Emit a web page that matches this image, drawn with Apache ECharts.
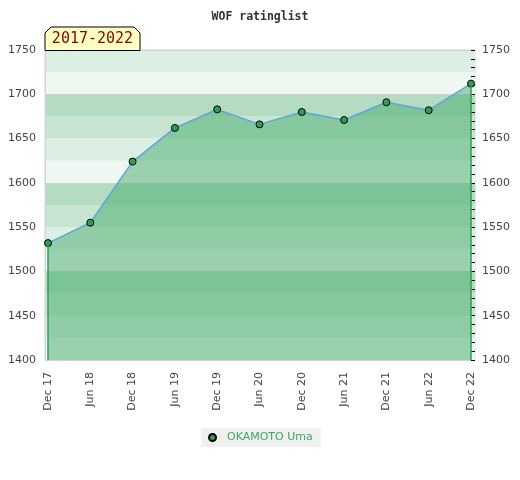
<!DOCTYPE html>
<html>
<head>
<meta charset="utf-8">
<script src="https://cdn.jsdelivr.net/npm/echarts@6/dist/echarts.min.js"></script>
<style>
  html, body { margin: 0; padding: 0; background: #ffffff; }
  #chart { width: 520px; height: 480px; }
</style>
</head>
<body>
<div id="chart"></div>
<script>
const categories = ['Dec 17', 'Jun 18', 'Dec 18', 'Jun 19', 'Dec 19', 'Jun 20', 'Dec 20', 'Jun 21', 'Dec 21', 'Jun 22', 'Dec 22'];
const ratings = [1532, 1555, 1624, 1662, 1683, 1666, 1680, 1671, 1691, 1682, 1712];
const seriesName = 'OKAMOTO Uma';
const chartTitle = 'WOF ratinglist';
const periodLabel = '2017-2022';
const yMin = 1400, yMax = 1750, yStep = 50;

const chart = echarts.init(document.getElementById('chart'), null, { renderer: 'canvas' });
const labelColor = '#444';
const font = 'DejaVu Sans';
const plainNumber = v => String(v);

const option = {
  backgroundColor: '#ffffff',
  animation: false,
  title: {
    text: chartTitle,
    left: 'center',
    top: 6,
    textStyle: { fontFamily: 'DejaVu Sans Mono', fontWeight: 'bold', fontSize: 11.5, color: '#333' }
  },
  legend: {
    data: [seriesName],
    left: 201,
    top: 428,
    padding: [4, 8, 4, 7],
    backgroundColor: '#f0f0f0',
    icon: 'circle',
    itemWidth: 7,
    itemHeight: 7,
    textStyle: { fontFamily: font, fontSize: 11, color: '#3aa860', padding: [0, 0, 0, 6] }
  },
  grid: [
    { left: 45, right: 45, top: 50, bottom: 120, show: true, borderColor: '#d4d4d4', borderWidth: 1, backgroundColor: 'transparent' },
    { left: 48, right: 49, top: 50, bottom: 120, show: false }
  ],
  xAxis: [
    { gridIndex: 0, type: 'value', min: 0, max: 1, show: false },
    {
      gridIndex: 1, type: 'category', data: categories, boundaryGap: false,
      axisLine: { show: false }, axisTick: { show: false },
      axisLabel: { rotate: 90, margin: 12, fontFamily: font, fontSize: 11, color: labelColor, interval: 0 }
    }
  ],
  yAxis: [
    {
      gridIndex: 0, type: 'value', position: 'left', min: yMin, max: yMax, interval: yStep,
      axisLine: { show: true, lineStyle: { color: '#d4d4d4' } }, axisTick: { show: false },
      splitLine: { show: false },
      axisLabel: { margin: 9, fontFamily: font, fontSize: 11, color: labelColor, formatter: plainNumber }
    },
    {
      gridIndex: 0, type: 'value', position: 'right', min: yMin, max: yMax, interval: yStep,
      axisLine: { show: false },
      axisTick: { show: true, inside: true, length: 4, lineStyle: { color: '#000' } },
      minorTick: { show: true, splitNumber: 5, length: 4, lineStyle: { color: '#000' } },
      splitLine: { show: false },
      axisLabel: { margin: 7, fontFamily: font, fontSize: 11, color: labelColor, formatter: plainNumber }
    },
    {
      gridIndex: 0, type: 'value', min: yMin, max: yMax, interval: 25,
      axisLine: { show: false }, axisTick: { show: false }, axisLabel: { show: false },
      splitLine: { show: false },
      splitArea: { show: true, areaStyle: { color: ['#eff7f2', '#dcefe3', '#c7e5d1', '#b3dcc1'] } }
    },
    {
      gridIndex: 0, type: 'value', min: yMin, max: yMax, interval: 100,
      axisLine: { show: false }, axisTick: { show: false }, axisLabel: { show: false },
      splitLine: { show: true, lineStyle: { color: '#d0d0d0', width: 1 } }
    },
    { gridIndex: 1, type: 'value', min: yMin, max: yMax, show: false }
  ],
  series: [
    {
      name: seriesName,
      type: 'line',
      xAxisIndex: 1,
      yAxisIndex: 4,
      data: ratings,
      symbol: 'circle',
      symbolSize: 7,
      lineStyle: { color: '#62a3dc', width: 1.5 },
      itemStyle: { color: '#2e9e55', borderColor: '#000', borderWidth: 1 },
      areaStyle: { color: 'rgba(68,172,106,0.5)', opacity: 1, origin: 'start' },
      markLine: {
        silent: true,
        symbol: 'none',
        label: { show: false },
        lineStyle: { color: '#2ea052', width: 1.5, type: 'solid' },
        data: [
          [{ coord: [categories[0], ratings[0]] }, { coord: [categories[0], yMin] }],
          [{ coord: [categories[categories.length - 1], ratings[ratings.length - 1]] }, { coord: [categories[categories.length - 1], yMin] }]
        ]
      },
      z: 3
    }
  ],
  graphic: [
    {
      type: 'polygon',
      shape: { points: [[45, 50.5], [45, 33], [51, 27], [134, 27], [140, 33], [140, 50.5]] },
      style: { fill: '#ffffc4', stroke: '#000', lineWidth: 1 },
      z: 10
    },
    {
      type: 'text',
      x: 92.5, y: 39.5,
      style: { text: periodLabel, fill: '#8b0000', font: '15px "DejaVu Sans Mono"', align: 'center', verticalAlign: 'middle' },
      z: 11
    }
  ]
};
chart.setOption(option);
</script>
</body>
</html>
